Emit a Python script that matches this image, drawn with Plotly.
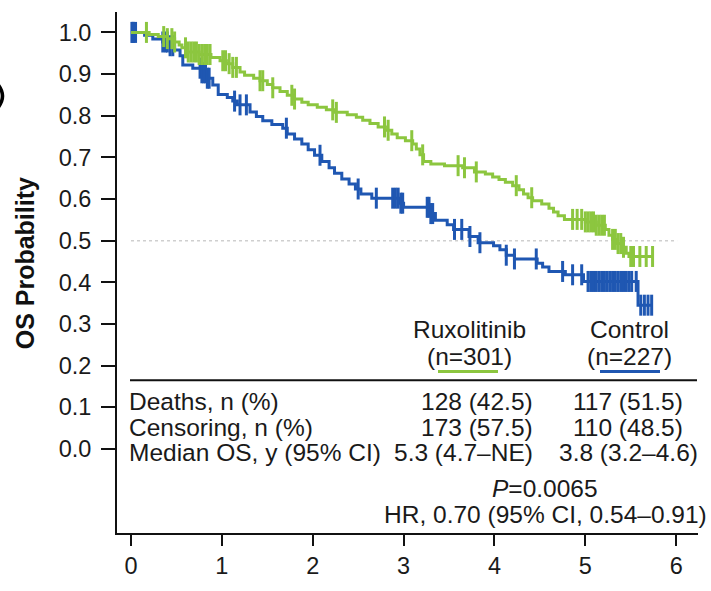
import plotly.graph_objects as go

# ---------------- data ----------------
rux_times = [0.00, 0.20, 0.30, 0.40, 0.48, 0.53, 0.56, 0.62, 0.75, 0.88, 0.98, 1.05, 1.12, 1.20,
             1.25, 1.35, 1.42, 1.50, 1.56, 1.64, 1.72, 1.78, 1.88, 1.95, 2.05, 2.15, 2.25, 2.38,
             2.48, 2.55, 2.63, 2.72, 2.80, 2.87, 2.93, 3.02, 3.10, 3.14, 3.18, 3.22, 3.30, 3.45,
             3.65, 3.78, 3.90, 3.98, 4.05, 4.12, 4.20, 4.27, 4.32, 4.37, 4.42, 4.52, 4.60, 4.65,
             4.70, 4.77, 5.00, 5.12, 5.22, 5.26, 5.30, 5.35, 5.40, 5.45, 5.48, 5.75]
rux_surv = [1.000, 0.995, 0.990, 0.985, 0.977, 0.970, 0.963, 0.953, 0.947, 0.940, 0.932, 0.925,
            0.916, 0.905, 0.897, 0.890, 0.884, 0.875, 0.867, 0.858, 0.849, 0.840, 0.832, 0.826,
            0.820, 0.814, 0.808, 0.802, 0.796, 0.789, 0.781, 0.773, 0.765, 0.756, 0.747, 0.740,
            0.732, 0.720, 0.706, 0.690, 0.684, 0.680, 0.675, 0.665, 0.660, 0.653, 0.647, 0.640,
            0.632, 0.622, 0.612, 0.603, 0.596, 0.588, 0.578, 0.569, 0.560, 0.551, 0.545, 0.537,
            0.527, 0.513, 0.503, 0.493, 0.484, 0.470, 0.462, 0.462]
rux_censor = [0.17, 0.36, 0.40, 0.45, 0.48, 0.60, 0.63, 0.66, 0.69, 0.72, 0.75, 0.78, 0.81, 0.84,
              0.87, 1.01, 1.04, 1.08, 1.12, 1.16, 1.42, 1.45, 1.56, 1.77, 1.80, 2.22, 2.26, 2.79,
              2.83, 3.09, 3.21, 3.60, 3.67, 3.80, 4.24, 4.41, 4.86, 4.91, 4.96, 5.00, 5.03, 5.06,
              5.09, 5.12, 5.15, 5.18, 5.21, 5.30, 5.33, 5.36, 5.39, 5.42, 5.50, 5.53, 5.60, 5.67,
              5.74]

ctl_times = [0.00, 0.15, 0.24, 0.35, 0.42, 0.48, 0.54, 0.57, 0.68, 0.78, 0.84, 0.90, 0.96, 1.06,
             1.12, 1.17, 1.31, 1.38, 1.45, 1.55, 1.67, 1.72, 1.80, 1.88, 1.95, 2.02, 2.10, 2.18,
             2.24, 2.32, 2.40, 2.47, 2.53, 2.65, 2.95, 3.00, 3.30, 3.35, 3.48, 3.55, 3.72, 3.82,
             3.99, 4.06, 4.13, 4.22, 4.47, 4.53, 4.60, 4.78, 4.98, 5.58, 5.74]
ctl_surv = [1.000, 0.993, 0.984, 0.977, 0.968, 0.958, 0.944, 0.922, 0.914, 0.903, 0.890, 0.874,
            0.851, 0.844, 0.835, 0.826, 0.809, 0.798, 0.788, 0.779, 0.770, 0.756, 0.744, 0.732,
            0.718, 0.705, 0.690, 0.675, 0.662, 0.648, 0.636, 0.624, 0.612, 0.602, 0.590, 0.580,
            0.565, 0.549, 0.538, 0.527, 0.510, 0.495, 0.488, 0.478, 0.465, 0.456, 0.446, 0.437,
            0.426, 0.418, 0.402, 0.345, 0.345]
ctl_censor = [0.01, 0.02, 0.03, 0.05, 0.35, 0.38, 0.40, 0.43, 0.46, 0.76, 0.78, 0.80, 0.82, 0.84,
              0.86, 1.14, 1.20, 1.27, 1.71, 2.08, 2.50, 2.70, 2.88, 2.91, 2.94, 2.97, 2.99, 3.26,
              3.28, 3.30, 3.32, 3.56, 3.64, 3.73, 3.84, 4.13, 4.22, 4.46, 4.75, 4.86, 4.96, 5.03,
              5.06, 5.09, 5.12, 5.15, 5.18, 5.21, 5.24, 5.27, 5.30, 5.33, 5.36, 5.39, 5.42, 5.45,
              5.48, 5.51, 5.56, 5.61, 5.65, 5.69, 5.73]

x_ticks = [0, 1, 2, 3, 4, 5, 6]
y_ticks = [0.0, 0.1, 0.2, 0.3, 0.4, 0.5, 0.6, 0.7, 0.8, 0.9, 1.0]
y_ticktext = ["0.0", "0.1", "0.2", "0.3", "0.4", "0.5", "0.6", "0.7", "0.8", "0.9", "1.0"]

arm_names = ["Ruxolitinib", "Control"]
arm_n = ["(n=301)", "(n=227)"]
row_labels = ["Deaths, n (%)", "Censoring, n (%)", "Median OS, y (95% CI)"]
rux_vals = ["128 (42.5)", "173 (57.5)", "5.3 (4.7\u2013NE)"]
ctl_vals = ["117 (51.5)", "110 (48.5)", "3.8 (3.2\u20134.6)"]
p_text = "<i>P</i>=0.0065"
hr_text = "HR, 0.70 (95% CI, 0.54\u20130.91)"

GREEN = "#8CC63F"
BLUE = "#1F57B2"
FONT = "Liberation Sans, Arial, sans-serif"

# ---------------- helpers ----------------
W, H = 711, 591
ML, MR, MT, MB = 117, 13, 12, 40
XR = [-0.154, 6.24]
YR = [-0.202, 1.049]


def X(px):
    return XR[0] + (px - ML) / (W - ML - MR) * (XR[1] - XR[0])


def Y(py):
    return YR[1] - (py - MT) / (H - MT - MB) * (YR[1] - YR[0])


def PX(px):
    return (px - ML) / (W - ML - MR)


def PY(py):
    return (H - MB - py) / (H - MT - MB)


def step_at(times, surv, t):
    v = surv[0]
    for tt, s in zip(times, surv):
        if tt <= t:
            v = s
    return v


fig = go.Figure()

for times, surv, cens, col, name in [
    (ctl_times, ctl_surv, ctl_censor, BLUE, "Control"),
    (rux_times, rux_surv, rux_censor, GREEN, "Ruxolitinib"),
]:
    fig.add_trace(go.Scatter(x=times, y=surv, mode="lines", line=dict(color=col, width=3, shape="hv"),
                             name=name, showlegend=False, hoverinfo="skip"))
    fig.add_trace(go.Scatter(x=cens, y=[step_at(times, surv, t) for t in cens], mode="markers",
                             marker=dict(symbol="line-ns", size=15, line=dict(color=col, width=3)),
                             showlegend=False, hoverinfo="skip"))

shapes = [
    dict(type="line", xref="x", yref="y", x0=0, x1=6.01, y0=0.5, y1=0.5,
         line=dict(color="#cfcfcf", width=1.5, dash="dot"), layer="below"),
    dict(type="line", xref="x", yref="y", x0=X(130), x1=X(697), y0=Y(393), y1=Y(393),
         line=dict(color="#111", width=2)),
    dict(type="line", xref="x", yref="y", x0=X(438), x1=X(498), y0=Y(384), y1=Y(384),
         line=dict(color=GREEN, width=3)),
    dict(type="line", xref="x", yref="y", x0=X(600), x1=X(660), y0=Y(384), y1=Y(384),
         line=dict(color=BLUE, width=3)),
    # sliver of the cropped panel letter at the left edge
    dict(type="path", xref="paper", yref="paper",
         path="M %f,%f Q %f,%f %f,%f" % (PX(-2), PY(87), PX(7), PY(99), PX(-2), PY(111)),
         line=dict(color="#000", width=3.5)),
]

TF = dict(family=FONT, size=24.5, color="#1a1a1a")
ann = []
for name, n, cx in [(arm_names[0], arm_n[0], 469), (arm_names[1], arm_n[1], 629)]:
    ann.append(dict(x=X(cx), y=Y(340), text=name, xanchor="center", yanchor="middle"))
    ann.append(dict(x=X(cx), y=Y(368), text=n, xanchor="center", yanchor="middle"))
for i, py in enumerate([415, 442, 468]):
    ann.append(dict(x=X(127), y=Y(py), text=row_labels[i], xanchor="left", yanchor="middle"))
    ann.append(dict(x=X(535), y=Y(py), text=rux_vals[i], xanchor="right", yanchor="middle"))
    ann.append(dict(x=X(628), y=Y(py), text=ctl_vals[i], xanchor="center", yanchor="middle"))
ann.append(dict(x=X(545), y=Y(505), text=p_text, xanchor="center", yanchor="middle"))
ann.append(dict(x=X(545), y=Y(532), text=hr_text, xanchor="center", yanchor="middle"))
for a in ann:
    a.update(xref="x", yref="y", showarrow=False, font=TF)

# y-axis title
ann.append(dict(xref="paper", yref="paper", x=PX(25), y=PY(272),
                text="<b>OS Probability</b>", textangle=-90, showarrow=False,
                xanchor="center", yanchor="middle", font=dict(family=FONT, size=25, color="#111")))

fig.update_layout(
    width=W, height=H,
    margin=dict(l=ML, r=MR, t=MT, b=MB),
    paper_bgcolor="white", plot_bgcolor="white",
    shapes=shapes, annotations=ann,
    xaxis=dict(range=XR, tickvals=x_ticks, showgrid=False, zeroline=False, showline=True,
               linecolor="#111", linewidth=2, ticks="outside", ticklen=11, tickwidth=2,
               tickcolor="#111", tickfont=dict(family=FONT, size=23.5, color="#1a1a1a")),
    yaxis=dict(range=YR, tickvals=y_ticks, ticktext=y_ticktext, showgrid=False, zeroline=False,
               showline=True, linecolor="#111", linewidth=2, ticks="outside", ticklen=14,
               tickwidth=2, tickcolor="#111", ticklabelstandoff=5,
               tickfont=dict(family=FONT, size=23.5, color="#1a1a1a")),
)

fig.write_html("out.html")
